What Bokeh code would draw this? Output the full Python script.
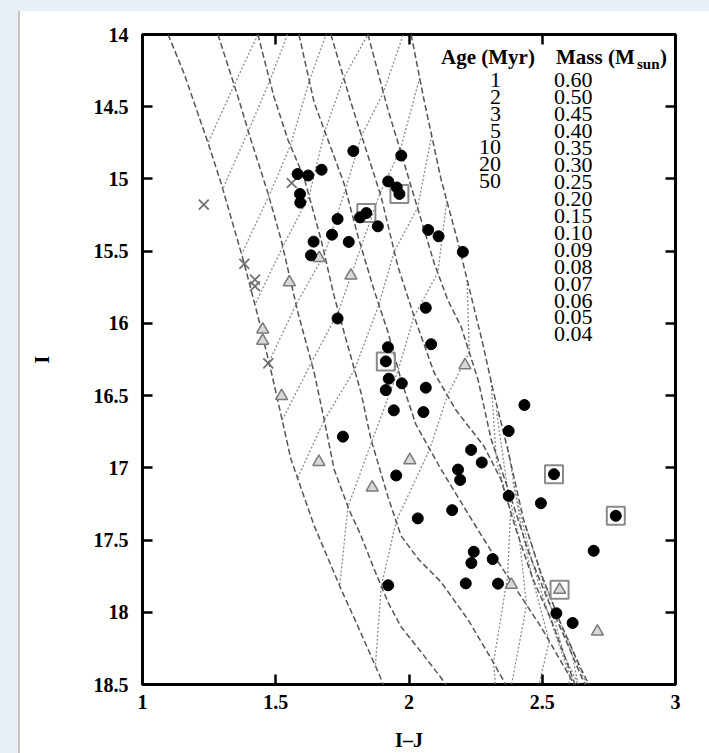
from bokeh.plotting import figure
from bokeh.models import (Range1d, FixedTicker, LinearAxis, Label, Spacer,
                          CustomJSTickFormatter)
from bokeh.layouts import column, row
from bokeh.embed import file_html
from bokeh.resources import INLINE

# ---------------- data ----------------
AGE_LABELS = ["1", "2", "3", "5", "10", "20", "50"]
MASS_LABELS = ["0.60", "0.50", "0.45", "0.40", "0.35", "0.30", "0.25", "0.20",
               "0.15", "0.10", "0.09", "0.08", "0.07", "0.06", "0.05", "0.04"]

# isochrones (dashed), one list per age: I-J colour and I magnitude
ISO_COLOR = [
    [2.008, 2.056, 2.120, 2.184, 2.233, 2.278, 2.315, 2.370, 2.430, 2.497, 2.570, 2.645, 2.675, 2.710],
    [1.846, 1.921, 1.959, 2.019, 2.094, 2.146, 2.195, 2.259, 2.308, 2.385, 2.452, 2.520, 2.595, 2.655, 2.685],
    [1.707, 1.782, 1.827, 1.895, 1.959, 2.019, 2.094, 2.176, 2.281, 2.345, 2.402, 2.465, 2.533, 2.615, 2.645],
    [1.587, 1.644, 1.696, 1.756, 1.809, 1.869, 1.921, 1.970, 2.026, 2.120, 2.259, 2.334, 2.420, 2.495, 2.608, 2.650],
    [1.433, 1.493, 1.546, 1.606, 1.670, 1.719, 1.771, 1.820, 1.857, 1.921, 1.970, 2.034, 2.120, 2.221, 2.308, 2.357, 2.390],
    [1.283, 1.358, 1.407, 1.471, 1.520, 1.584, 1.644, 1.681, 1.719, 1.775, 1.820, 1.869, 1.921, 1.970, 2.056, 2.131, 2.180],
    [1.096, 1.156, 1.246, 1.295, 1.381, 1.433, 1.490, 1.557, 1.644, 1.745, 1.809, 1.895, 1.920],
]
ISO_MAG = [
    [14.00, 14.45, 15.00, 15.44, 15.81, 16.15, 16.46, 16.87, 17.36, 17.74, 18.08, 18.39, 18.50, 18.60],
    [14.00, 14.52, 14.75, 15.12, 15.58, 15.84, 16.02, 16.39, 16.80, 17.22, 17.60, 17.91, 18.22, 18.48, 18.60],
    [14.00, 14.47, 14.73, 15.12, 15.61, 15.95, 16.34, 16.60, 16.85, 17.08, 17.43, 17.77, 18.05, 18.46, 18.60],
    [14.00, 14.47, 14.73, 15.03, 15.40, 15.77, 16.06, 16.39, 16.70, 17.01, 17.43, 17.65, 17.89, 18.10, 18.46, 18.60],
    [14.00, 14.43, 14.73, 14.99, 15.42, 15.81, 16.16, 16.48, 16.80, 17.20, 17.47, 17.63, 17.79, 18.05, 18.32, 18.48, 18.60],
    [14.00, 14.43, 14.73, 15.10, 15.42, 15.93, 16.34, 16.66, 17.01, 17.29, 17.47, 17.70, 17.93, 18.10, 18.30, 18.48, 18.60],
    [14.00, 14.27, 14.75, 15.03, 15.58, 15.95, 16.39, 16.94, 17.40, 17.84, 18.10, 18.46, 18.60],
]

# mass tracks (dotted), one list per mass, nodes at 1,2,3,5,10,20,50 Myr
TRACK_COLOR = [
    [1.835, 1.684, 1.576, 1.533, 1.433, 1.344, 1.246],
    [1.869, 1.730, 1.627, 1.571, 1.478, 1.397, 1.301],
    [1.917, 1.795, 1.699, 1.626, 1.555, 1.474, 1.372],
    [1.955, 1.846, 1.755, 1.684, 1.625, 1.526, 1.422],
    [1.997, 1.904, 1.822, 1.762, 1.683, 1.576, 1.474],
    [2.040, 1.967, 1.891, 1.820, 1.735, 1.634, 1.524],
    [2.085, 2.032, 1.945, 1.887, 1.796, 1.682, 1.582],
    [2.142, 2.108, 2.019, 1.960, 1.860, 1.771, 1.740],
    [2.218, 2.226, 2.144, 2.078, 1.952, 1.896, 1.874],
    [2.308, 2.328, 2.381, 2.370, 2.317, 2.350],
    [2.328, 2.370, 2.415, 2.441, 2.380],
    [2.370, 2.420, 2.461, 2.526, 2.450],
    [2.390, 2.462, 2.521, 2.605, 2.530],
    [2.437, 2.530, 2.583, 2.700],
    [2.500, 2.613, 2.650],
    [2.588, 2.710],
]
TRACK_MAG = [
    [12.38, 12.88, 13.18, 13.55, 14.00, 14.35, 14.75],
    [12.70, 13.20, 13.50, 13.87, 14.32, 14.67, 15.07],
    [13.15, 13.65, 13.95, 14.32, 14.77, 15.12, 15.52],
    [13.50, 14.00, 14.30, 14.67, 15.12, 15.47, 15.87],
    [13.90, 14.40, 14.70, 15.07, 15.52, 15.87, 16.27],
    [14.30, 14.80, 15.10, 15.47, 15.92, 16.27, 16.67],
    [14.70, 15.20, 15.50, 15.87, 16.32, 16.67, 17.07],
    [15.15, 15.65, 15.95, 16.32, 16.82, 17.27, 17.82],
    [15.70, 16.20, 16.50, 16.87, 17.37, 17.82, 18.37],
    [16.40, 16.95, 17.30, 17.75, 18.35, 19.00],
    [16.60, 17.15, 17.50, 17.95, 18.55],
    [16.85, 17.40, 17.75, 18.20, 18.80],
    [17.10, 17.65, 18.00, 18.45, 19.05],
    [17.40, 17.95, 18.30, 18.75],
    [17.75, 18.30, 18.65],
    [18.15, 18.70],
]

# candidate members (filled circles)
MEMBER_COLOR = [1.791, 1.971, 1.582, 1.622, 1.672, 1.591, 1.592, 1.922, 1.954, 1.964,
                1.732, 1.711, 1.642, 1.632, 1.774, 1.816, 1.840, 1.883, 2.072, 2.111,
                2.202, 2.063, 1.732, 2.083, 1.921, 1.913, 1.924, 1.973, 1.913, 2.063,
                1.943, 2.054, 2.433, 2.374, 1.752, 2.233, 2.273, 2.184, 2.192, 2.544,
                1.952, 2.374, 2.495, 2.776, 2.162, 2.033, 2.693, 2.243, 2.234, 2.314,
                2.213, 2.334, 1.922, 2.553, 2.614]
MEMBER_MAG = [14.807, 14.838, 14.966, 14.976, 14.936, 15.104, 15.164, 15.017, 15.059, 15.104,
              15.277, 15.386, 15.434, 15.529, 15.436, 15.266, 15.236, 15.328, 15.353, 15.397,
              15.505, 15.892, 15.966, 16.144, 16.165, 16.263, 16.383, 16.415, 16.462, 16.445,
              16.602, 16.614, 16.565, 16.745, 16.784, 16.876, 16.963, 17.012, 17.084, 17.044,
              17.053, 17.194, 17.245, 17.332, 17.293, 17.350, 17.574, 17.581, 17.659, 17.632,
              17.800, 17.802, 17.813, 18.007, 18.074]

# open triangles
TRI_COLOR = [1.663, 1.782, 1.551, 1.451, 1.451, 1.522, 1.662, 1.862, 2.003, 2.210,
             2.384, 2.565, 2.707]
TRI_MAG = [15.547, 15.669, 15.715, 16.042, 16.120, 16.503, 16.959, 17.136, 16.947, 16.290,
           17.809, 17.844, 18.134]

# crosses
CROSS_COLOR = [1.230, 1.560, 1.382, 1.422, 1.422, 1.472]
CROSS_MAG = [15.178, 15.028, 15.588, 15.697, 15.743, 16.277]

# boxed objects
BOXED_COLOR = [1.840, 1.964, 1.913, 2.544, 2.776, 2.565]
BOXED_MAG = [15.236, 15.104, 16.263, 17.044, 17.332, 17.844]

X_TICKS = [1, 1.5, 2, 2.5, 3]
Y_TICKS = [14, 14.5, 15, 15.5, 16, 16.5, 17, 17.5, 18, 18.5]

# ---------------- figure ----------------
SERIF = "Liberation Serif"
BG = "#e9eff7"

p = figure(width=689, height=742, x_range=Range1d(1, 3), y_range=Range1d(18.5, 14),
           output_backend="svg", toolbar_location=None,
           min_border_left=122, min_border_right=34, min_border_top=23,
           min_border_bottom=66, background_fill_color="white",
           border_fill_color="white")
p.grid.visible = False
p.outline_line_color = "black"
p.outline_line_width = 3

fmt = CustomJSTickFormatter(code="return String(tick);")
for ax, ticks in ((p.xaxis[0], X_TICKS), (p.yaxis[0], Y_TICKS)):
    ax.ticker = FixedTicker(ticks=ticks)
    ax.formatter = fmt
    ax.major_tick_in = 10
    ax.major_tick_out = 0
    ax.minor_tick_line_color = None
    ax.major_tick_line_width = 2.5
    ax.major_tick_line_color = "black"
    ax.axis_line_color = None
    ax.major_label_text_font = SERIF
    ax.major_label_text_font_style = "bold"
    ax.major_label_text_font_size = "20px"
    ax.major_label_text_color = "black"
    ax.axis_label_text_font = SERIF
    ax.axis_label_text_font_style = "bold"
    ax.axis_label_text_font_size = "20px"
    ax.axis_label_text_color = "black"

p.xaxis[0].axis_label = "I\u2013J"
p.xaxis[0].major_label_standoff = 10
p.xaxis[0].axis_label_standoff = 17
p.yaxis[0].axis_label = "I"
p.yaxis[0].major_label_standoff = 14
p.yaxis[0].axis_label_standoff = 38

for side, ticks in (("above", X_TICKS), ("right", Y_TICKS)):
    a = LinearAxis(ticker=FixedTicker(ticks=ticks), major_tick_in=10, major_tick_out=0,
                   minor_tick_line_color=None, major_tick_line_width=2.5,
                   axis_line_color=None, major_label_text_font_size="0px",
                   major_label_standoff=0)
    p.add_layout(a, side)

# curves
p.multi_line(xs=TRACK_COLOR, ys=TRACK_MAG, line_color="#8a8a8a", line_width=1.3,
             line_dash="2 2")
p.multi_line(xs=ISO_COLOR, ys=ISO_MAG, line_color="#555555", line_width=1.5,
             line_dash="6 3")

# points
p.scatter(BOXED_COLOR, BOXED_MAG, marker="square", size=18, fill_color=None,
          line_color="#8a8a8a", line_width=2)
p.scatter(CROSS_COLOR, CROSS_MAG, marker="x", size=14, line_color="#6e6e6e",
          line_width=1.7)
p.scatter(TRI_COLOR, TRI_MAG, marker="triangle", size=12, fill_color="#d8d8d8",
          line_color="#7a7a7a", line_width=1.5)
p.scatter(MEMBER_COLOR, MEMBER_MAG, marker="circle", size=11, fill_color="black",
          line_color="black")

# ---------------- legend text ----------------
def px2x(px):
    return 1 + (px - 141.5) / 266.5

def py2y(py):
    return 14 + (py - 34.5) / 144.7

p.add_layout(Label(x=px2x(487), y=py2y(57), text="Age (Myr)", text_font=SERIF,
                   text_font_style="bold", text_font_size="21px", text_align="center",
                   text_baseline="middle", text_color="black"))
p.add_layout(Label(x=px2x(555), y=py2y(57), text="Mass (M", text_font=SERIF,
                   text_font_style="bold", text_font_size="21px", text_align="left",
                   text_baseline="middle", text_color="black"))
p.add_layout(Label(x=px2x(636), y=py2y(64), text="sun", text_font=SERIF,
                   text_font_style="bold", text_font_size="15px", text_align="left",
                   text_baseline="middle", text_color="black"))
p.add_layout(Label(x=px2x(659), y=py2y(57), text=")", text_font=SERIF,
                   text_font_style="bold", text_font_size="21px", text_align="left",
                   text_baseline="middle", text_color="black"))
for i, t in enumerate(AGE_LABELS):
    p.add_layout(Label(x=px2x(500), y=py2y(80 + 16.9 * i), text=t, text_font=SERIF,
                       text_font_size="22px", text_align="right",
                       text_baseline="middle", text_color="black"))
for i, t in enumerate(MASS_LABELS):
    p.add_layout(Label(x=px2x(553), y=py2y(80 + 17 * i), text=t, text_font=SERIF,
                       text_font_size="22px", text_align="left",
                       text_baseline="middle", text_color="black"))

top = Spacer(width=709, height=11, styles={"background-color": BG})
left = Spacer(width=18, height=742, styles={"background-color": BG})
edge = Spacer(width=2, height=742, styles={"background-color": "#c4c4c4"})
layout = column(top, row(left, edge, p))

open("out.html", "w").write(file_html(layout, INLINE))
